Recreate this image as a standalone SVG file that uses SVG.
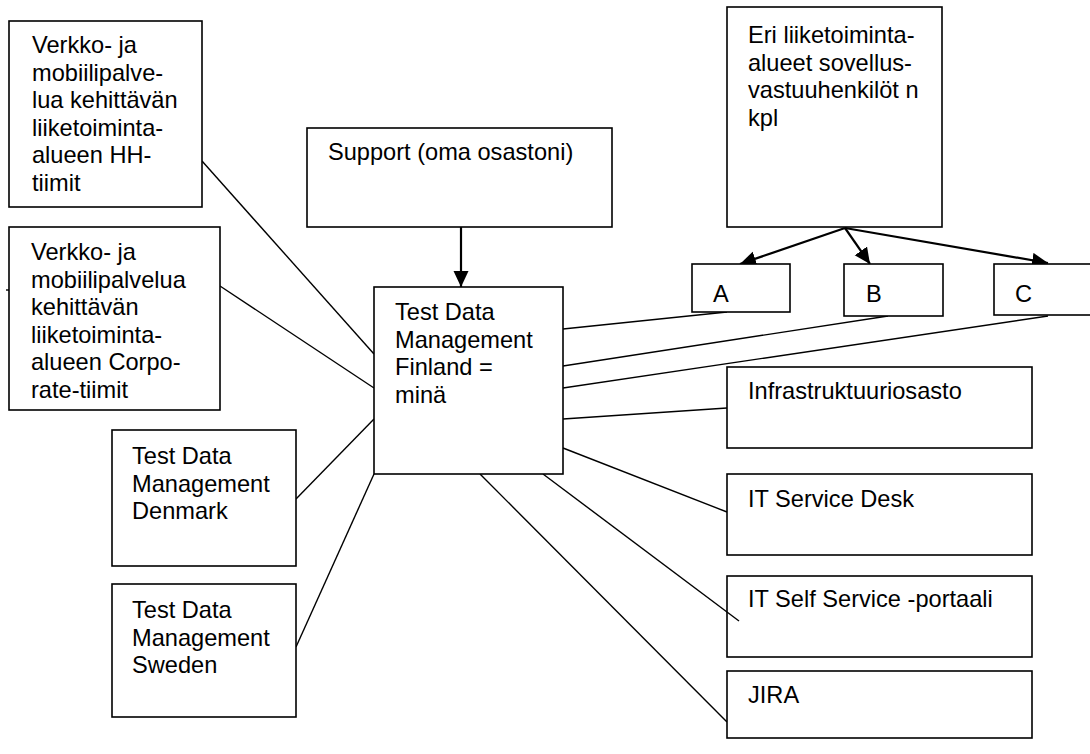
<svg xmlns="http://www.w3.org/2000/svg" width="1090" height="754" viewBox="0 0 1090 754">
<style>
.box{fill:#fff;stroke:#000;stroke-width:1.6}
.t{font-family:"Liberation Sans",Arial,sans-serif;font-size:23.6px;fill:#000}
.c{stroke:#000;stroke-width:1.4;fill:none}
.a{stroke:#000;stroke-width:2.2;fill:none;marker-end:url(#ah)}
</style>
<defs>
<marker id="ah" markerUnits="userSpaceOnUse" markerWidth="17" markerHeight="16" refX="16" refY="7.5" orient="auto" viewBox="0 0 17 16">
<path d="M0,0 L16,7.5 L0,15 z" fill="#000"/>
</marker>
</defs>
<rect width="1090" height="754" fill="#fff"/>
<g id="connectors">
<line class="c" x1="6" y1="290" x2="9" y2="290"/>
<line class="c" x1="202" y1="161" x2="374" y2="354"/>
<line class="c" x1="220" y1="286" x2="374" y2="388"/>
<line class="c" x1="296" y1="499" x2="374" y2="419"/>
<line class="c" x1="296" y1="647" x2="374" y2="474"/>
<line class="c" x1="563" y1="329" x2="727" y2="312"/>
<line class="c" x1="563" y1="366" x2="888" y2="316"/>
<line class="c" x1="563" y1="388" x2="1048" y2="316"/>
<line class="c" x1="563" y1="419" x2="727" y2="408"/>
<line class="c" x1="563" y1="448" x2="727" y2="512"/>
<line class="c" x1="543" y1="474" x2="739" y2="621"/>
<line class="c" x1="480" y1="474" x2="727" y2="722"/>
<line class="a" x1="461" y1="227" x2="461" y2="287"/>
<line class="a" x1="845" y1="228" x2="740" y2="264"/>
<line class="a" x1="845" y1="228" x2="870" y2="264"/>
<line class="a" x1="845" y1="228" x2="1048" y2="263"/>
</g>
<g id="n-hh">
<rect class="box" x="9" y="21" width="193" height="186"/>
<text class="t" x="32"><tspan x="32" y="53">Verkko- ja</tspan><tspan x="32" y="80.5">mobiilipalve-</tspan><tspan x="32" y="108">lua kehittävän</tspan><tspan x="32" y="135.5">liiketoiminta-</tspan><tspan x="32" y="163">alueen HH-</tspan><tspan x="32" y="190.5">tiimit</tspan></text>
</g>
<g id="n-corp">
<rect class="box" x="9" y="227" width="211" height="183"/>
<text class="t"><tspan x="31" y="260">Verkko- ja</tspan><tspan x="31" y="287.5">mobiilipalvelua</tspan><tspan x="31" y="315">kehittävän</tspan><tspan x="31" y="342.5">liiketoiminta-</tspan><tspan x="31" y="370">alueen Corpo-</tspan><tspan x="31" y="397.5">rate-tiimit</tspan></text>
</g>
<g id="n-denmark">
<rect class="box" x="112" y="430" width="184" height="136"/>
<text class="t"><tspan x="132" y="464">Test Data</tspan><tspan x="132" y="491.5">Management</tspan><tspan x="132" y="519">Denmark</tspan></text>
</g>
<g id="n-sweden">
<rect class="box" x="112" y="584" width="184" height="133"/>
<text class="t"><tspan x="132" y="618">Test Data</tspan><tspan x="132" y="645.5">Management</tspan><tspan x="132" y="673">Sweden</tspan></text>
</g>
<g id="n-support">
<rect class="box" x="307" y="128" width="305" height="99"/>
<text class="t" x="328" y="160">Support (oma osastoni)</text>
</g>
<g id="n-finland">
<rect class="box" x="374" y="287" width="189" height="187"/>
<text class="t"><tspan x="395" y="320">Test Data</tspan><tspan x="395" y="347.5">Management</tspan><tspan x="395" y="375">Finland =</tspan><tspan x="395" y="402.5">minä</tspan></text>
</g>
<g id="n-eri">
<rect class="box" x="727" y="7" width="215" height="220"/>
<text class="t"><tspan x="748" y="43">Eri liiketoiminta-</tspan><tspan x="748" y="70.5">alueet sovellus-</tspan><tspan x="748" y="98">vastuuhenkilöt n</tspan><tspan x="748" y="125.5">kpl</tspan></text>
</g>
<g id="n-a">
<rect class="box" x="692" y="264" width="98" height="48"/>
<text class="t" x="713" y="302">A</text>
</g>
<g id="n-b">
<rect class="box" x="844" y="264" width="99" height="52"/>
<text class="t" x="866" y="302">B</text>
</g>
<g id="n-c">
<rect class="box" x="994" y="264" width="110" height="51"/>
<text class="t" x="1015" y="302">C</text>
</g>
<g id="n-infra">
<rect class="box" x="727" y="367" width="305" height="81"/>
<text class="t" x="748" y="399">Infrastruktuuriosasto</text>
</g>
<g id="n-sd">
<rect class="box" x="727" y="474" width="305" height="81"/>
<text class="t" x="748" y="507">IT Service Desk</text>
</g>
<g id="n-ss">
<rect class="box" x="727" y="576" width="305" height="81"/>
<text class="t" x="748" y="607">IT Self Service -portaali</text>
</g>
<line class="c" x1="727" y1="612" x2="739" y2="621"/>
<g id="n-jira">
<rect class="box" x="727" y="671" width="305" height="67"/>
<text class="t" x="748" y="703">JIRA</text>
</g>
</svg>
